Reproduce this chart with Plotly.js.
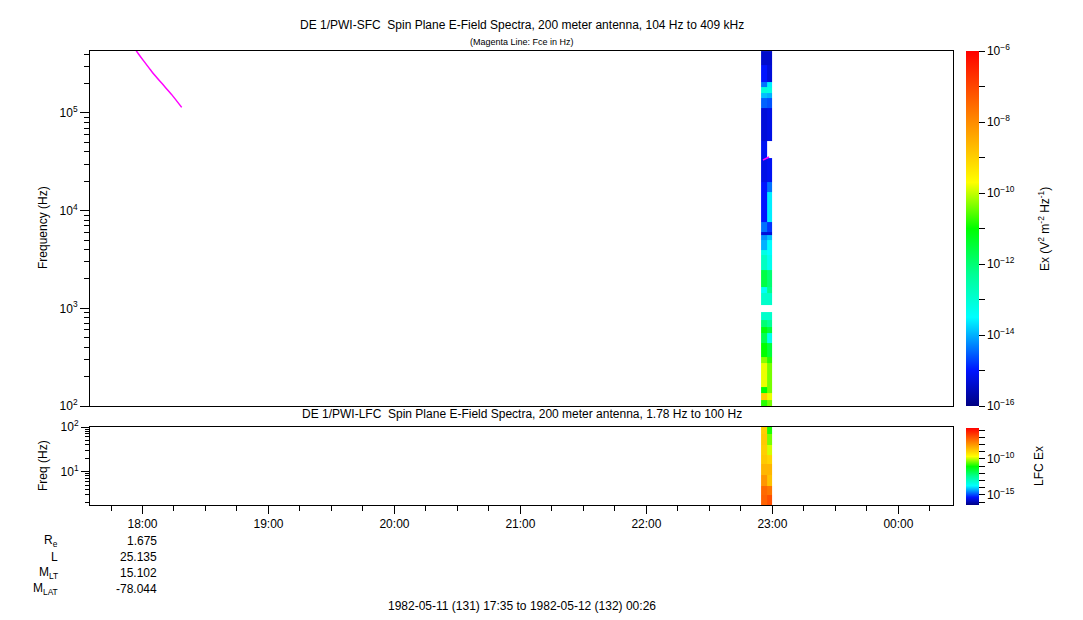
<!DOCTYPE html>
<html>
<head>
<meta charset="utf-8">
<script src="https://cdn.plot.ly/plotly-3.0.1.min.js"></script>
<style>html,body{margin:0;padding:0;background:#fff;}#chart{width:1083px;height:620px;}</style>
</head>
<body>
<div id="chart"></div>
<script>
// ---- time columns (edges) of the spectrogram
var colEdges = ['1982-05-11 22:54:36', '1982-05-11 22:57:24', '1982-05-11 22:59:48'];

// ---- SFC (upper panel) frequency bin edges, Hz (bottom -> top)
var sfcFreqEdges = [100, 115, 136, 156.5, 275.5, 317, 441, 559, 644, 759, 917, 1081, 1434, 1652, 2466, 3512, 3951, 5001, 5627, 6039, 7641, 15503, 19620, 34546, 51575, 112260, 143050, 159900, 184200, 207200, 309300, 430000];
// log10 spectral density, left and right time columns (bottom -> top)
var sfcLeft  = [-10.8, -9.0, -11.0, -9.8, -10.3, -11.0, -11.7, -11.1, -12.0, -12.9, null, -12.9, -13.4, -11.6, -12.8, -13.2, -14.0, -14.2, -15.3, -14.4, -15.0, -15.0, -15.2, -15.1, -15.3, -14.5, -13.9, -13.1, -14.4, -15.0, -15.4];
var sfcRight = [-10.4, -9.8, -10.4, -10.4, -10.8, -11.5, -13.3, -11.5, -12.3, -12.9, null, -12.9, -12.2, -12.0, -13.3, -13.5, -13.5, -13.9, -15.3, -14.8, -13.6, -14.4, -15.1, null, -15.2, -14.6, -14.0, -13.2, -13.6, -15.3, -15.4];

// ---- LFC (lower panel) frequency bin edges, Hz (bottom -> top)
var lfcFreqEdges = [1.78, 2.99, 4.75, 8.39, 14.8, 23.6, 39.5, 69.7, 100];
var lfcLeft  = [-7.2, -7.3, -8.0, -8.5, -8.8, -8.9, -8.8, -8.9];
var lfcRight = [-6.9, -7.5, -8.7, -8.5, -9.0, -9.9, -10.4, -10.9];

// ---- Magenta line: electron cyclotron frequency Fce (Hz)
var fceTimes = ['1982-05-11 17:56:40', '1982-05-11 17:57:14', '1982-05-11 18:01:11', '1982-05-11 18:04:23', '1982-05-11 18:09:06', '1982-05-11 18:13:55', '1982-05-11 18:18:40', null, '1982-05-11 22:55:30', '1982-05-11 22:58:24'];
var fceFreqs = [460000, 426000, 327000, 266000, 202000, 154000, 114000, null, 33000, 35400];

// ---- ephemeris
var ephemLabels = ['R<sub>e</sub>', 'L', 'M<sub>LT</sub>', 'M<sub>LAT</sub>'];
var ephemValues = ['1.675', '25.135', '15.102', '-78.044'];

var FONT = 'Liberation Sans, Arial, sans-serif';
var scale = [[0, 'rgb(0,0,130)'], [0.1, 'rgb(0,20,255)'], [0.25, 'rgb(0,255,255)'], [0.37, 'rgb(0,255,150)'], [0.5, 'rgb(0,255,0)'], [0.63, 'rgb(255,255,0)'], [0.8, 'rgb(255,140,0)'], [1, 'rgb(255,0,0)']];

function zip(a, b) { return a.map(function (v, i) { return [v, b[i]]; }); }

// geometry helpers (plot area 90..953 x 51..505)
var L = 90, R = 953, T = 51, B = 505, W = R - L, H = B - T;
function px(x) { return (x - L) / W; }
function py(y) { return (B - y) / H; }

var traces = [
  {
    type: 'heatmap', x: colEdges, y: sfcFreqEdges, z: zip(sfcLeft, sfcRight),
    xaxis: 'x2', yaxis: 'y2', zmin: -16, zmax: -6, colorscale: scale, zsmooth: false,
    hoverongaps: false,
    colorbar: {
      x: px(966), xanchor: 'left', xpad: 0, thickness: 13, lenmode: 'fraction', len: (406 - 51) / H,
      y: 1, yanchor: 'top', ypad: 0, outlinewidth: 0, ticks: 'outside', ticklen: 6, tickcolor: '#000',
      tickmode: 'linear', tick0: -16, dtick: 1, ticklabelstep: 2,
      tickprefix: '10<sup>', ticksuffix: '</sup>', tickformat: 'd',
      tickfont: {family: FONT, size: 12, color: '#000'}
    }
  },
  {
    type: 'heatmap', x: colEdges, y: lfcFreqEdges, z: zip(lfcLeft, lfcRight),
    xaxis: 'x', yaxis: 'y', zmin: -16.4, zmax: -5.7, colorscale: scale, zsmooth: false,
    colorbar: {
      x: px(966), xanchor: 'left', xpad: 0, thickness: 13, lenmode: 'fraction', len: (505 - 428) / H,
      y: py(428), yanchor: 'top', ypad: 0, outlinewidth: 0, ticks: 'outside', ticklen: 6, tickcolor: '#000',
      tickmode: 'linear', tick0: -15, dtick: 1, ticklabelstep: 5,
      tickprefix: '10<sup>', ticksuffix: '</sup>', tickformat: 'd',
      tickfont: {family: FONT, size: 12, color: '#000'}
    }
  },
  {
    type: 'scatter', mode: 'lines', x: fceTimes, y: fceFreqs, xaxis: 'x2', yaxis: 'y2',
    line: {color: '#ff00ff', width: 1.5, shape: 'spline', smoothing: 0.6}, connectgaps: false, showlegend: false, cliponaxis: true
  }
];

function ann(text, x, y, opts) {
  var a = {text: text, x: px(x), y: py(y), xref: 'paper', yref: 'paper', showarrow: false, xanchor: 'center', yanchor: 'middle', font: {family: FONT, size: 12, color: '#000'}};
  for (var k in (opts || {})) a[k] = opts[k];
  return a;
}

var annotations = [
  ann('DE 1/PWI-SFC\u00a0\u00a0Spin Plane E-Field Spectra, 200 meter antenna, 104 Hz to 409 kHz', 521.5, 25),
  ann('(Magenta Line: Fce in Hz)', 521.5, 42, {font: {family: FONT, size: 9, color: '#000'}}),
  ann('DE 1/PWI-LFC\u00a0\u00a0Spin Plane E-Field Spectra, 200 meter antenna, 1.78 Hz to 100 Hz', 521.5, 414),
  ann('Frequency (Hz)', 43, 228, {textangle: -90}),
  ann('Freq (Hz)', 43, 466, {textangle: -90}),
  ann('Ex (V<sup>2</sup> m<sup>-2</sup> Hz<sup>-1</sup>)', 1044, 229, {textangle: -90}),
  ann('LFC Ex', 1039, 466, {textangle: -90}),
  ann('1982-05-11 (131) 17:35 to 1982-05-12 (132) 00:26', 522, 606)
];
var rowY = [541, 557, 573, 589];
ephemLabels.forEach(function (t, i) {
  annotations.push(ann(t, 60, rowY[i], {xanchor: 'right'}));
  annotations.push(ann(ephemValues[i], 159, rowY[i], {xanchor: 'right'}));
});

var xRange = ['1982-05-11 17:35', '1982-05-12 00:26'];
var minorSfc = [200, 300, 400, 500, 600, 700, 800, 900, 2000, 3000, 4000, 5000, 6000, 7000, 8000, 9000, 20000, 30000, 40000, 50000, 60000, 70000, 80000, 90000, 200000, 300000, 400000];
var minorLfc = [2, 3, 4, 5, 6, 7, 8, 9, 20, 30, 40, 50, 60, 70, 80, 90];

var layout = {
  width: 1083, height: 620,
  margin: {l: L, r: 1083 - R, t: T, b: 620 - B, pad: 0},
  paper_bgcolor: '#fff', plot_bgcolor: '#fff',
  font: {family: FONT, size: 12, color: '#000'},
  showlegend: false,
  xaxis: {
    domain: [0, 1], anchor: 'y', type: 'date', range: xRange,
    showline: true, linecolor: '#000', linewidth: 1, mirror: true, showgrid: false, zeroline: false,
    ticks: 'outside', ticklen: 8, tickcolor: '#000', tickmode: 'linear', tick0: '1982-05-11 18:00', dtick: 3600000,
    tickformat: '%H:%M', tickfont: {family: FONT, size: 12, color: '#000'},
    minor: {ticks: 'outside', ticklen: 5, tickcolor: '#000', tick0: '1982-05-11 17:45', dtick: 900000, showgrid: false}
  },
  yaxis: {
    domain: [0, py(427)], anchor: 'x', type: 'log', range: [Math.log10(1.78), 2],
    showline: true, linecolor: '#000', linewidth: 1, mirror: true, showgrid: false, zeroline: false,
    ticks: 'outside', ticklen: 8, tickcolor: '#000', tickmode: 'array', tickvals: [10, 100], ticktext: ['10<sup>1</sup>', '10<sup>2</sup>'],
    minor: {ticks: 'outside', ticklen: 4, tickcolor: '#000', tickmode: 'array', tickvals: minorLfc, showgrid: false}
  },
  xaxis2: {
    domain: [0, 1], anchor: 'y2', type: 'date', range: xRange, matches: 'x',
    showline: true, linecolor: '#000', linewidth: 1, mirror: true, showgrid: false, zeroline: false,
    showticklabels: false, ticks: ''
  },
  yaxis2: {
    domain: [py(406), 1], anchor: 'x2', type: 'log', range: [2, 5.634],
    showline: true, linecolor: '#000', linewidth: 1, mirror: true, showgrid: false, zeroline: false,
    ticks: 'outside', ticklen: 9, tickcolor: '#000', tickmode: 'array', tickvals: [100, 1000, 10000, 100000],
    ticktext: ['10<sup>2</sup>', '10<sup>3</sup>', '10<sup>4</sup>', '10<sup>5</sup>'],
    minor: {ticks: 'outside', ticklen: 5, tickcolor: '#000', tickmode: 'array', tickvals: minorSfc, showgrid: false}
  },
  annotations: annotations
};

Plotly.newPlot('chart', traces, layout, {displayModeBar: false, staticPlot: true});
</script>
</body>
</html>
